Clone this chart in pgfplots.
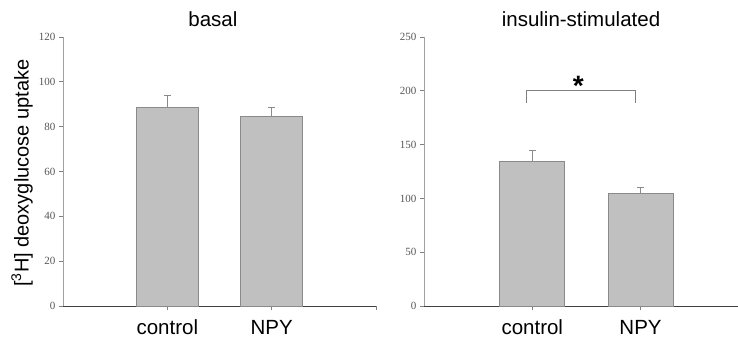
\documentclass[border=0pt]{standalone}
\usepackage{fontspec}
\setmainfont{Liberation Sans}
\newfontfamily\tickfont{Liberation Serif}
\usepackage{pgfplots}
\pgfplotsset{compat=1.18}
\definecolor{barfill}{HTML}{C0C0C0}
\definecolor{baredge}{HTML}{8A8A8A}
\definecolor{yaxis}{HTML}{A0A0A0}
\definecolor{xaxis}{HTML}{404040}
\definecolor{ticktext}{HTML}{555555}
\pgfplotsset{panel/.style={
  scale only axis, width=313pt, height=269pt,
  axis x line=bottom, axis y line=left,
  x axis line style={-, draw=xaxis, line width=0.8pt},
  y axis line style={-, draw=yaxis, line width=0.8pt},
  tick align=outside, major tick length=4pt,
  tick style={draw=gray, line width=0.8pt},
  xmin=0, ymin=0,
  xtick={1,2,3}, xticklabels={control,NPY,},
  xticklabel style={font=\fontsize{20.5}{24}\selectfont, anchor=base, yshift=-24pt},
  yticklabel style={font=\tickfont\fontsize{11}{12}\selectfont, text=ticktext},
  /pgf/number format/assume math mode=true,
  title style={font=\fontsize{20.5}{24}\selectfont, anchor=base, yshift=5pt},
  clip=false,
},
bars/.style={ybar, bar width=0.6, bar shift=0pt, fill=barfill, draw=baredge,
  line width=1pt, mark=none,
  error bars/.cd, y dir=plus, y explicit,
  error bar style={draw=baredge, line width=1pt},
  error mark options={draw=baredge, line width=1pt, mark size=3.5pt, rotate=90}}
}
\begin{document}
\begin{tikzpicture}
\useasboundingbox (0,0) rectangle (738pt,338pt);
\begin{axis}[panel, at={(63pt,32pt)}, anchor=south west,
  xmax=3, ymax=120, ytick={0,20,...,120},
  title={basal}, title style={at={(axis description cs:0.479,1)}},
  ylabel={[\textsuperscript{3}H] deoxyglucose uptake},
  ylabel style={font=\fontsize{20}{24}\selectfont, at={(axis description cs:-0.131,0.494)}, anchor=center}]
\addplot[bars]
  coordinates {(1,88.6) +- (0,5.2) (2,84.6) +- (0,4.0)};
\end{axis}
\begin{axis}[panel, at={(424pt,32pt)}, anchor=south west, width=314pt,
  xmax=2.9, ymax=250, ytick={0,50,...,250},
  title={insulin-stimulated}, title style={at={(axis description cs:0.5,1)}}]
\addplot[bars]
  coordinates {(1,134.6) +- (0,10.3) (2,104.9) +- (0,5.2)};
\addplot[sharp plot, draw=gray, line width=0.9pt, mark=none]
  coordinates {(0.95,188.5) (0.95,200) (1.95,200) (1.95,188.5)};
\node[anchor=base, font=\fontsize{28}{30}\selectfont\bfseries] at (axis cs:1.425,196) {*};
\end{axis}
\end{tikzpicture}
\end{document}
